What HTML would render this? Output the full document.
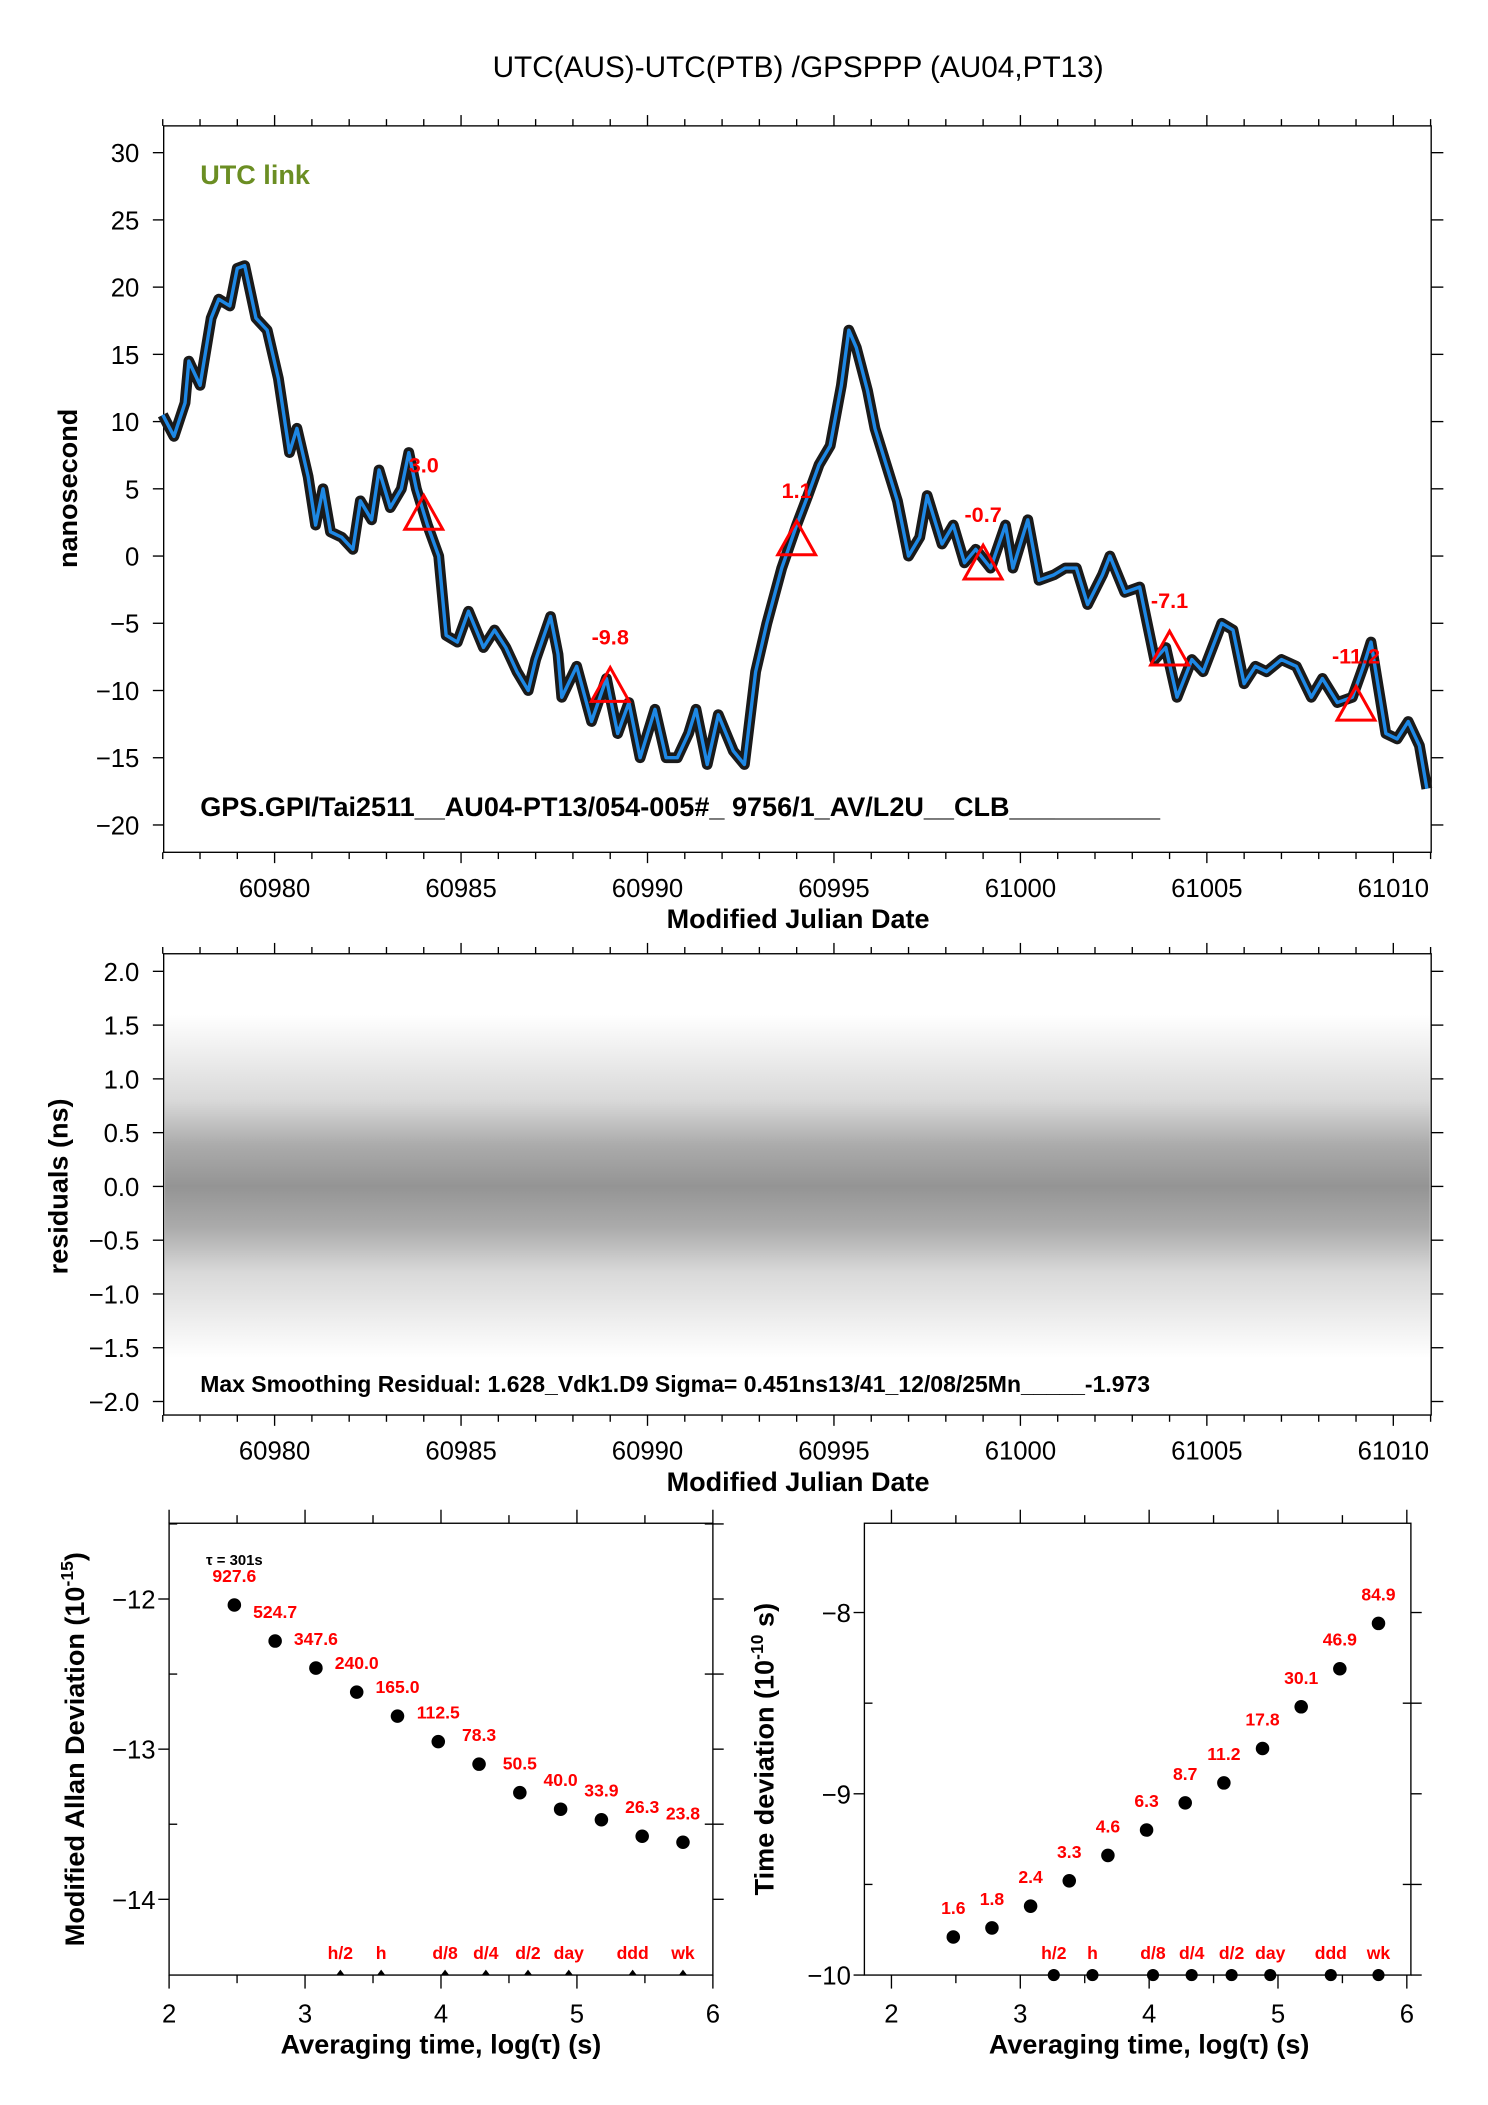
<!DOCTYPE html>
<html><head><meta charset="utf-8"><style>
html,body{margin:0;padding:0;background:#fff}
svg{display:block}
text{font-family:"Liberation Sans",sans-serif}
</style></head><body>
<svg id="svg" width="1488" height="2105" viewBox="0 0 1100 1556" xmlns="http://www.w3.org/2000/svg">
<text x="590" y="57" font-size="22" text-anchor="middle">UTC(AUS)-UTC(PTB)  /GPSPPP  (AU04,PT13)</text>
<g id="top"></g>
<g id="mid"></g>
<g id="bl"></g>
<g id="br"></g>
</svg>
<script>
const mjd = [60977.0,60977.3,60977.6,60977.7,60978.0,60978.3,60978.5,60978.8,60979.0,60979.2,60979.5,60979.8,60980.1,60980.4,60980.6,60980.9,60981.1,60981.3,60981.5,60981.8,60982.1,60982.3,60982.6,60982.8,60983.1,60983.4,60983.6,60983.8,60984.1,60984.4,60984.6,60984.9,60985.2,60985.6,60985.9,60986.2,60986.5,60986.8,60987.0,60987.4,60987.6,60987.7,60988.1,60988.5,60988.9,60989.2,60989.5,60989.8,60990.2,60990.5,60990.8,60991.1,60991.3,60991.6,60991.9,60992.3,60992.6,60992.9,60993.2,60993.6,60994.0,60994.3,60994.6,60994.9,60995.2,60995.4,60995.6,60995.9,60996.1,60996.4,60996.7,60997.0,60997.3,60997.5,60997.9,60998.2,60998.5,60998.8,60999.2,60999.6,60999.8,61000.2,61000.5,61000.9,61001.2,61001.5,61001.8,61002.2,61002.4,61002.8,61003.2,61003.6,61003.9,61004.2,61004.6,61004.9,61005.4,61005.7,61006.0,61006.3,61006.6,61007.0,61007.4,61007.8,61008.1,61008.5,61008.9,61009.2,61009.4,61009.8,61010.1,61010.4,61010.7,61010.9];
const offsetNs = [10.5,8.9,11.4,14.5,12.7,17.7,19.1,18.6,21.4,21.6,17.7,16.8,13.2,7.7,9.5,5.9,2.3,5.0,1.8,1.4,0.5,4.1,2.7,6.4,3.6,5.0,7.7,5.0,2.3,0,-5.9,-6.4,-4.1,-6.8,-5.5,-6.8,-8.6,-10,-7.7,-4.5,-7.3,-10.5,-8.2,-12.3,-9.1,-13.2,-10.9,-15,-11.4,-15,-15,-13.2,-11.4,-15.5,-11.8,-14.5,-15.5,-8.6,-5.0,-0.9,2.3,4.5,6.8,8.2,12.7,16.8,15.5,12.3,9.5,6.8,4.1,0,1.4,4.5,0.9,2.3,-0.5,0.5,-0.9,2.3,-0.9,2.7,-1.8,-1.4,-0.9,-0.9,-3.6,-1.4,0,-2.7,-2.3,-7.7,-6.8,-10.5,-7.7,-8.6,-5.0,-5.5,-9.5,-8.2,-8.6,-7.7,-8.2,-10.5,-9.1,-10.9,-10.5,-8.2,-6.4,-13.2,-13.6,-12.3,-14.1,-17.3];
const triMjd = [60984,60989,60994,60999,61004,61009];
const triVal = [3.0,-9.8,1.1,-0.7,-7.1,-11.2];
const xTicks = [60980,60985,60990,60995,61000,61005,61010];
const yTicksTop = [30,25,20,15,10,5,0,-5,-10,-15,-20];
const yTicksMid = [2.0,1.5,1.0,0.5,0.0,-0.5,-1.0,-1.5,-2.0];
const logTau = [2.48,2.78,3.08,3.38,3.68,3.98,4.28,4.58,4.88,5.18,5.48,5.78];
const mdevLog = [-12.04,-12.28,-12.46,-12.62,-12.78,-12.95,-13.10,-13.29,-13.40,-13.47,-13.58,-13.62];
const mdevLabels = ["927.6","524.7","347.6","240.0","165.0","112.5","78.3","50.5","40.0","33.9","26.3","23.8"];
const tdevLog = [-9.79,-9.74,-9.62,-9.48,-9.34,-9.20,-9.05,-8.94,-8.75,-8.52,-8.31,-8.06];
const tdevLabels = ["1.6","1.8","2.4","3.3","4.6","6.3","8.7","11.2","17.8","30.1","46.9","84.9"];
const markNames = ["h/2","h","d/8","d/4","d/2","day","ddd","wk"];
const markPos = [3.26,3.56,4.03,4.33,4.64,4.94,5.41,5.78];

const NS="http://www.w3.org/2000/svg";
function mk(p,tag,at,txt){const e=document.createElementNS(NS,tag);for(const k in at)e.setAttribute(k,at[k]);if(txt!==undefined)e.textContent=txt;p.appendChild(e);return e;}

const X0=121,X1=1058;
const xM=v=>203+(v-60980)*(1030-203)/30;
function mjdAxis(g,yb,yt,name){
  const ax=mk(g,'g',{});
  
  
  for(let d=60977;d<=61011;d++){const x=xM(d);const maj=d%5===0;
    mk(ax,'line',{x1:x,x2:x,y1:yb,y2:yb+(maj?8:5),stroke:'#000','stroke-width':1});
    mk(ax,'line',{x1:x,x2:x,y1:yt,y2:yt-(maj?8:5),stroke:'#000','stroke-width':1});}
  xTicks.forEach(v=>{const t=mk(ax,'text',{x:xM(v),y:yb+33,'font-size':19,'text-anchor':'middle'},String(v));
    });
  const tt=mk(ax,'text',{x:590,y:yb+56,'font-size':20,'font-weight':'bold','text-anchor':'middle'},'Modified Julian Date');
  
}

// ---- TOP ----
(function(){
  const g=document.getElementById('top');const T=93,B=630;
  const yM=v=>411-v*9.94;
  const f=mk(g,'rect',{x:X0,y:T,width:X1-X0,height:B-T,fill:'none',stroke:'#000','stroke-width':1});
  
  yTicksTop.forEach(v=>{const y=yM(v);
    mk(g,'line',{x1:X0-8,x2:X0,y1:y,y2:y,stroke:'#000'});mk(g,'line',{x1:X1,x2:X1+9,y1:y,y2:y,stroke:'#000'});
    const t=mk(g,'text',{x:X0-18,y:y+7,'font-size':19,'text-anchor':'end'},(v<0?'\u2212'+(-v):String(v)));
    });
  mjdAxis(g,B,T,'x-axis');
  const yt=mk(g,'text',{x:57,y:361,'font-size':20,'font-weight':'bold','text-anchor':'middle',transform:'rotate(-90 57 361)'},'nanosecond');
  
  const lk=mk(g,'text',{x:148,y:136,'font-size':20,'font-weight':'bold',fill:'#6b8e23'},'UTC link');
  
  const pts=mjd.map((d,i)=>xM(d).toFixed(1)+','+yM(offsetNs[i]).toFixed(1)).join(' ');
  const band=mk(g,'polyline',{points:pts,fill:'none',stroke:'#1a1a1a','stroke-width':8,'stroke-linejoin':'round'});
  
  const ln=mk(g,'polyline',{points:pts,fill:'none',stroke:'#1e88e5','stroke-width':2.5,'stroke-linejoin':'round'});
  
  triMjd.forEach((d,i)=>{const x=xM(d),y=yM(triVal[i]);
    const p=mk(g,'polygon',{points:`${x-14},${y+10} ${x+14},${y+10} ${x},${y-15}`,fill:'none',stroke:'#f00','stroke-width':2.2});
    
    const t=mk(g,'text',{x:x,y:y-32,'font-size':16,'font-weight':'bold',fill:'#f00','text-anchor':'middle'},triVal[i].toFixed(1));
    });
  const s=mk(g,'text',{x:148,y:603,'font-size':20,'font-weight':'bold'},'GPS.GPI/Tai2511__AU04-PT13/054-005#_  9756/1_AV/L2U__CLB__________');
  
})();

// ---- MID ----
(function(){
  const g=document.getElementById('mid');const T=705,B=1046;
  const yM=v=>877-v*79.5;
  const defs=mk(g,'defs',{});
  const lg=mk(defs,'linearGradient',{id:'rg',x1:0,y1:0,x2:0,y2:1});
  [[0,0],[0.1,0.06],[0.25,0.15],[0.38,0.33],[0.5,0.42],[0.62,0.33],[0.75,0.15],[0.9,0.06],[1,0]].forEach(s=>mk(lg,'stop',{offset:s[0],'stop-color':'#000','stop-opacity':s[1]}));
  const band=mk(g,'rect',{x:X0+1,y:yM(1.6),width:X1-X0-2,height:yM(-1.6)-yM(1.6),fill:'url(#rg)'});
  
  const f=mk(g,'rect',{x:X0,y:T,width:X1-X0,height:B-T,fill:'none',stroke:'#000'});
  
  yTicksMid.forEach(v=>{const y=yM(v);
    mk(g,'line',{x1:X0-8,x2:X0,y1:y,y2:y,stroke:'#000'});mk(g,'line',{x1:X1,x2:X1+9,y1:y,y2:y,stroke:'#000'});
    const t=mk(g,'text',{x:X0-18,y:y+7,'font-size':19,'text-anchor':'end'},(v<0?'\u2212'+(-v).toFixed(1):v.toFixed(1)));
    });
  mjdAxis(g,B,T,'x-axis');
  const yt=mk(g,'text',{x:50,y:877,'font-size':20,'font-weight':'bold','text-anchor':'middle',transform:'rotate(-90 50 877)'},'residuals (ns)');
  
  const s=mk(g,'text',{x:148,y:1029,'font-size':17,'font-weight':'bold'},'Max Smoothing Residual: 1.628_Vdk1.D9  Sigma= 0.451ns13/41_12/08/25Mn_____-1.973');
  
})();

// ---- BOTTOM PANELS ----
function devPanel(g,o){
  const xS=v=>o.x2+(v-2)*(o.x6-o.x2)/4;
  const yS=v=>o.yA+(v-o.vA)*(o.yB-o.yA)/(o.vB-o.vA);
  const f=mk(g,'rect',{x:o.L,y:o.T,width:o.R-o.L,height:o.B-o.T,fill:'none',stroke:'#000'});
  
  for(let v=2;v<=6;v+=0.5){const x=xS(v);const maj=Number.isInteger(v);
    mk(g,'line',{x1:x,x2:x,y1:o.B,y2:o.B+(maj?10:6),stroke:'#000'});mk(g,'line',{x1:x,x2:x,y1:o.T,y2:o.T-(maj?10:6),stroke:'#000'});
    if(maj){const t=mk(g,'text',{x:x,y:o.B+35,'font-size':19,'text-anchor':'middle'},String(v));
      }}
  o.yt.forEach(v=>{const y=yS(v);const maj=Number.isInteger(v);
    mk(g,'line',{x1:o.L-(maj?8:0),x2:o.L+(maj?0:6),y1:y,y2:y,stroke:'#000'});
    mk(g,'line',{x1:o.R-(maj?0:6),x2:o.R+8,y1:y,y2:y,stroke:'#000'});
    if(maj){const t=mk(g,'text',{x:o.L-10,y:y+7,'font-size':19,'text-anchor':'end'},'\u2212'+(-v));
      }});
  const xt=mk(g,'text',{x:(xS(2)+xS(6))/2,y:o.B+58,'font-size':20,'font-weight':'bold','text-anchor':'middle'},'Averaging time, log(\u03c4) (s)');
  
  const ytt=mk(g,'text',{x:o.ytx,y:(o.T+o.B)/2,'font-size':20,'font-weight':'bold','text-anchor':'middle',transform:`rotate(-90 ${o.ytx} ${(o.T+o.B)/2})`});
  
  ytt.innerHTML=o.title;
  logTau.forEach((v,i)=>{const x=xS(v),y=yS(o.vals[i]);
    const c=mk(g,'circle',{cx:x,cy:y,r:5,fill:'#000'});
    
    const t=mk(g,'text',{x:x+o.lx,y:y+o.ly,'font-size':13,'font-weight':'bold',fill:'#f00','text-anchor':'middle'},o.labels[i]);
    });
  markPos.forEach((v,i)=>{const x=xS(v);
    const t=mk(g,'text',{x:x,y:o.B-12,'font-size':13,'font-weight':'bold',fill:'#f00','text-anchor':'middle'},markNames[i]);
    
    const m=o.dotMarks?mk(g,'circle',{cx:x,cy:o.B,r:4.5,fill:'#000'}):mk(g,'polygon',{points:`${x-3},${o.B} ${x+3},${o.B} ${x},${o.B-4}`,fill:'#000'});
    });
  return {xS,yS};
}
(function(){
  const g=document.getElementById('bl');
  const r=devPanel(g,{L:125,R:527,T:1126,B:1460,x2:125,x6:527,yA:1182,vA:-12,yB:1404,vB:-14,
    yt:[-11.5,-12,-12.5,-13,-13.5,-14],vals:mdevLog,labels:mdevLabels,lx:0,ly:-17,ytx:62,dotMarks:false,
    title:'Modified Allan Deviation (10<tspan dy="-8" font-size="13">-15</tspan><tspan dy="8">)</tspan>'});
  const t=mk(g,'text',{x:r.xS(2.48),y:1157,'font-size':11,'font-weight':'bold','text-anchor':'middle'},'\u03c4 = 301s');
  
})();
(function(){
  const g=document.getElementById('br');
  devPanel(g,{L:639,R:1043,T:1126,B:1460,x2:659,x6:1040,yA:1192,vA:-8,yB:1460,vB:-10,
    yt:[-8,-8.5,-9,-9.5,-10],vals:tdevLog,labels:tdevLabels,lx:0,ly:-17,ytx:572,dotMarks:true,
    title:'Time deviation (10<tspan dy="-8" font-size="13">-10</tspan><tspan dy="8"> s)</tspan>'});
})();
</script>
</body></html>
